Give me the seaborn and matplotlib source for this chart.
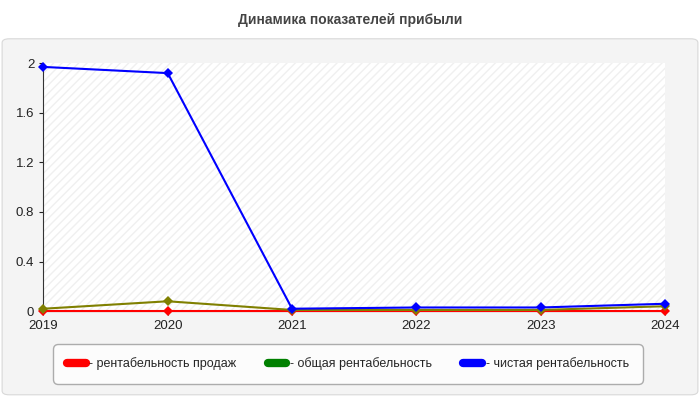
import matplotlib
matplotlib.use('Agg')
import matplotlib.pyplot as plt
from matplotlib.patches import FancyBboxPatch
import seaborn as sns
import pandas as pd

years = [2019, 2020, 2021, 2022, 2023, 2024]
sales = [0, 0, 0, 0, 0, 0]
general = [0.02, 0.08, 0.01, 0.01, 0.01, 0.04]
net = [1.97, 1.92, 0.02, 0.03, 0.03, 0.06]
labels = ['- рентабельность продаж', '- общая рентабельность', '- чистая рентабельность']
colors = ['#ff0000', '#808000', '#0000ff']
legend_colors = ['#ff0000', '#008000', '#0000ff']

sns.set_style('white')
plt.rcParams['font.family'] = ['Liberation Sans', 'DejaVu Sans']

fig = plt.figure(figsize=(7, 4), dpi=100)
bg = FancyBboxPatch((0.003, 0.013), 0.994, 0.89, boxstyle='round,pad=0,rounding_size=0.01',
                    transform=fig.transFigure, facecolor='#f4f4f4', edgecolor='#d8d8d8', lw=0.8, zorder=-10)
fig.patches.append(bg)
fig.text(0.5, 0.95, 'Динамика показателей прибыли', ha='center', va='center', fontsize=10,
         fontweight='bold', color='#444444')
ax = fig.add_axes([0.062, 0.222, 0.888, 0.62])
ax.set_facecolor('white')
ax.fill_between([2019, 2024], 0, 2, facecolor='white', hatch='////', edgecolor='#f0f0f0', lw=0)

df = pd.DataFrame({'year': years * 3, 'value': sales + general + net,
                   'series': [labels[0]] * 6 + [labels[1]] * 6 + [labels[2]] * 6})
for lab, c in zip(labels, colors):
    d = df[df.series == lab]
    sns.lineplot(data=d, x='year', y='value', color=c, lw=1.5, marker='D', markersize=5,
                 markeredgewidth=0, ax=ax, legend=False, clip_on=False, zorder=3)

ax.set_xlim(2019, 2024)
ax.set_ylim(0, 2)
ax.set_xticks(years)
ax.set_yticks([0, 0.4, 0.8, 1.2, 1.6, 2])
ax.set_yticklabels(['0', '0.4', '0.8', '1.2', '1.6', '2'])
ax.grid(True, ls='--', color='#dddddd', lw=0.8)
ax.set_xlabel('')
ax.set_ylabel('')
for s in ['top', 'right']:
    ax.spines[s].set_visible(False)
for s in ['left', 'bottom']:
    ax.spines[s].set_color('#333333')
ax.tick_params(axis='both', labelsize=9.5, colors='#222222', length=3, left=True, bottom=True)

handles = [plt.Line2D([], [], color=c, lw=6) for c in legend_colors]
leg = fig.legend(handles, labels, loc='center', bbox_to_anchor=(0.497, 0.09), ncol=3, fontsize=9,
                 frameon=True, handlelength=1.5, columnspacing=2.5, borderpad=0.9, handletextpad=0.3)
leg.get_frame().set_edgecolor('#999999')
leg.get_frame().set_facecolor('white')
leg.get_frame().set_boxstyle('round,pad=0.2,rounding_size=0.4')

fig.savefig('out.png', dpi=100)
